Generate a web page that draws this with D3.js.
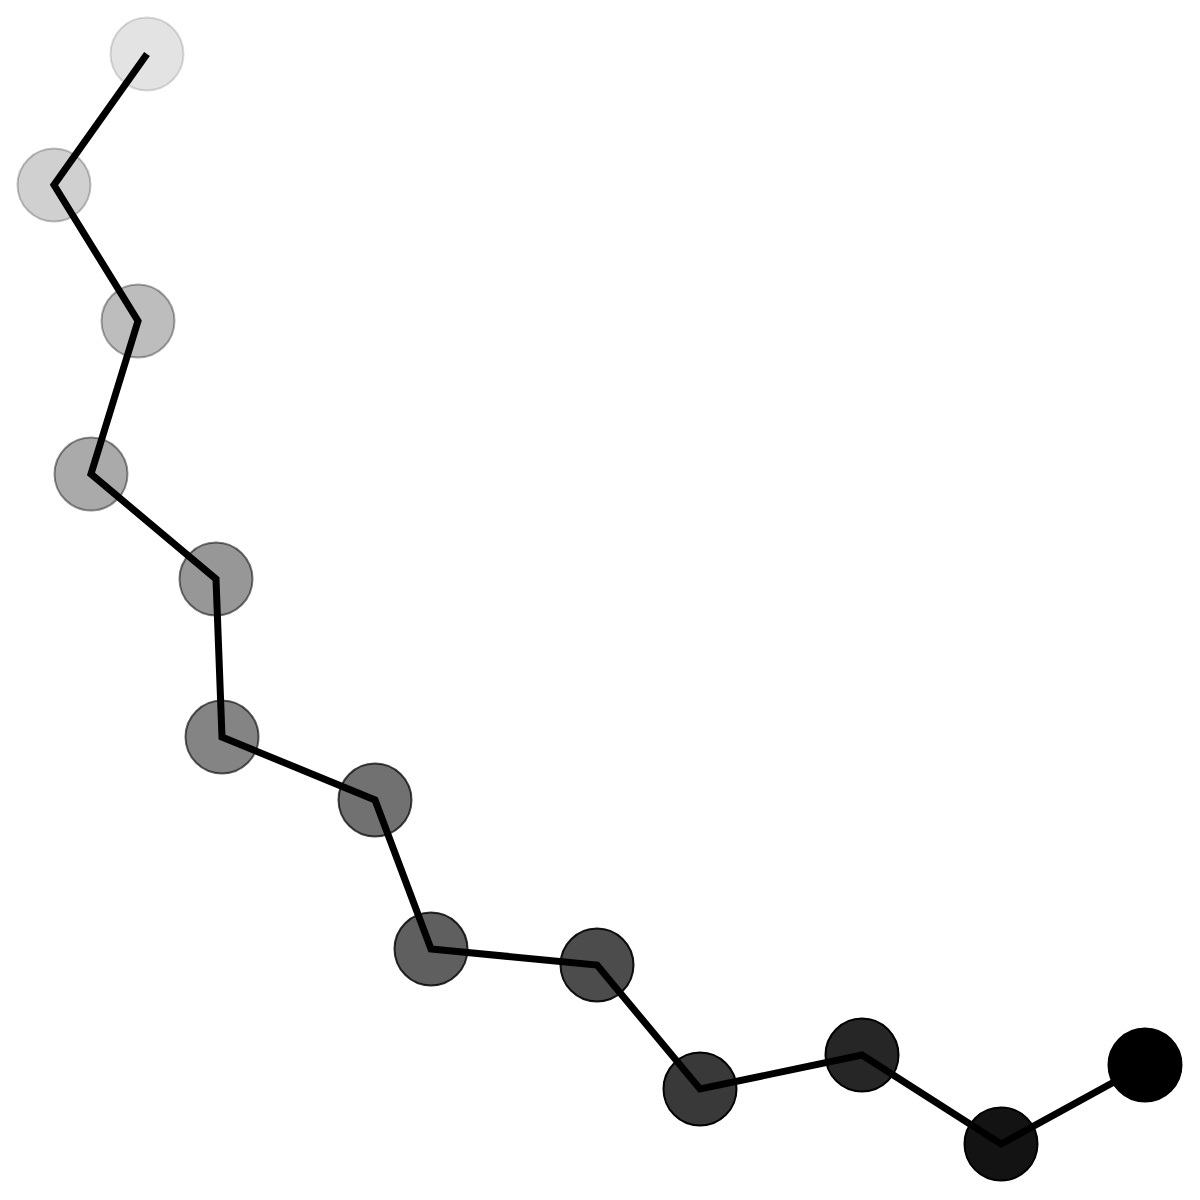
<!DOCTYPE html>
<html><head><meta charset="utf-8">
<script src="https://cdn.jsdelivr.net/npm/d3@7"></script>
<style>html,body{margin:0;padding:0;background:#fff}</style>
</head><body>
<script>
const xValues = [147, 54, 138, 91, 216, 222, 375, 431, 597, 700, 862, 1001, 1145];
const yValues = [1146, 1015, 879, 726, 621, 463, 400, 251, 235, 111, 145, 56, 135];
const order = d3.range(xValues.length);

const W = 1200, H = 1200;
const svg = d3.select("body").append("svg").attr("width", W).attr("height", H);
const x = d3.scaleLinear().domain([0, 1200]).range([0, W]);
const y = d3.scaleLinear().domain([0, 1200]).range([H, 0]);
const opa = d3.scaleLinear().domain([0, order.length - 1]).range([0.11, 1]);

const pts = order.map(i => ({x: xValues[i], y: yValues[i], i}));

svg.append("g").selectAll("circle").data(pts).join("circle")
  .attr("cx", d => x(d.x)).attr("cy", d => y(d.y)).attr("r", 36.5)
  .attr("fill", "black").attr("fill-opacity", d => opa(d.i))
  .attr("stroke", "black").attr("stroke-opacity", d => Math.min(1, opa(d.i) * 1.3))
  .attr("stroke-width", 2);

svg.append("path").datum(pts)
  .attr("d", d3.line().x(d => x(d.x)).y(d => y(d.y)))
  .attr("fill", "none").attr("stroke", "black").attr("stroke-width", 7)
  .attr("stroke-linejoin", "miter");
</script>
</body></html>
